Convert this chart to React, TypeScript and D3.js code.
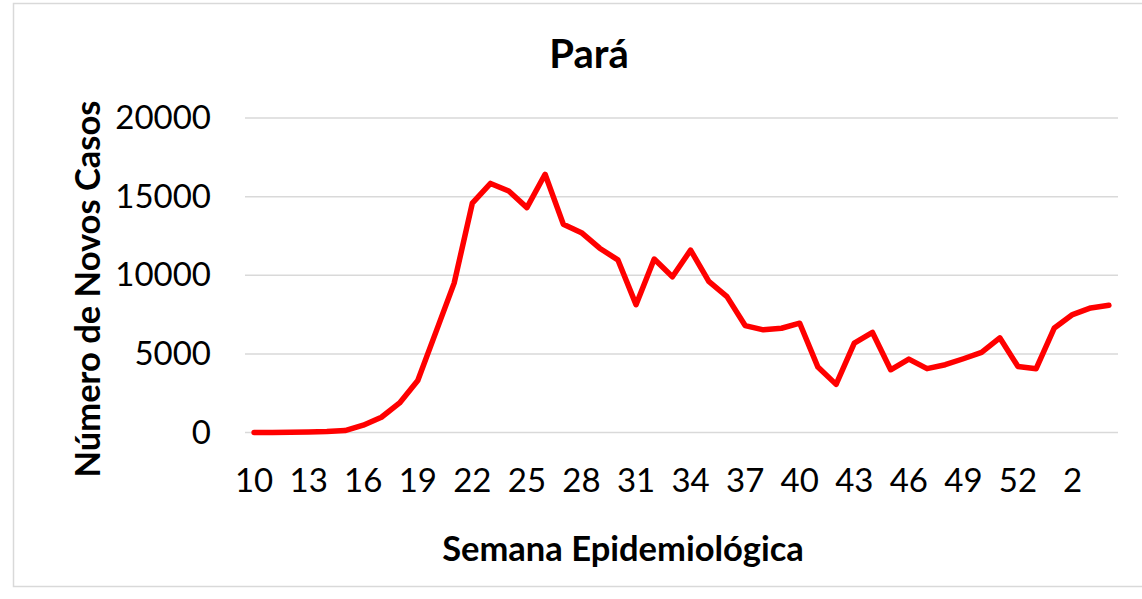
import React, { useEffect, useRef } from "react";
import * as d3 from "d3";

// semanas epidemiológicas (2020 -> 2021)
const weeks: string[] = [
  "10", "11", "12", "13", "14", "15", "16", "17", "18", "19", "20", "21",
  "22", "23", "24", "25", "26", "27", "28", "29", "30", "31", "32", "33",
  "34", "35", "36", "37", "38", "39", "40", "41", "42", "43", "44", "45",
  "46", "47", "48", "49", "50", "51", "52", "53", "1", "2", "3", "4",
];
const newCases: number[] = [
  0, 0, 10, 30, 60, 120, 465, 970, 1880, 3310, 6400, 9500,
  14580, 15840, 15360, 14300, 16420, 13250, 12710, 11720, 10980, 8130, 11030, 9900,
  11600, 9610, 8640, 6800, 6530, 6630, 6950, 4160, 3060, 5680, 6360, 3990,
  4670, 4060, 4310, 4690, 5090, 6020, 4200, 4060, 6650, 7500, 7920, 8090,
];
const yTicks: number[] = [0, 5000, 10000, 15000, 20000];

const chartTitle = "Pará";
const xTitle = "Semana Epidemiológica";
const yTitle = "Número de Novos Casos";

const App = () => {
  const ref = useRef<SVGSVGElement>(null);

  useEffect(() => {
    const width = 1142;
    const height = 599;
    const left = 245, right = 1118, top = 118, bottom = 432.5;
    const font = "Lato, 'Open Sans', sans-serif";

    const svg = d3.select(ref.current).attr("width", width).attr("height", height);
    svg.selectAll("*").remove();

    // chart frame
    svg.append("rect")
      .attr("x", 13.5).attr("y", 3.5)
      .attr("width", 1160).attr("height", 583)
      .attr("fill", "white").attr("stroke", "#d9d9d9").attr("stroke-width", 1.5);

    const idx = weeks.map((_, i) => String(i));
    const xScale = d3.scaleBand().domain(idx).range([left, right]).padding(0);
    const yScale = d3.scaleLinear().domain([0, 20000]).range([bottom, top]);
    const xc = (i: number) => (xScale(String(i)) as number) + xScale.bandwidth() / 2;

    // gridlines
    svg.append("g").selectAll("line")
      .data(yTicks)
      .join("line")
      .attr("x1", left).attr("x2", right)
      .attr("y1", d => yScale(d)).attr("y2", d => yScale(d))
      .attr("stroke", "#d9d9d9").attr("stroke-width", 1.5);

    // y tick labels
    const yAxis = d3.axisLeft(yScale).tickValues(yTicks).tickSize(0).tickPadding(34).tickFormat(d => String(d));
    const gy = svg.append("g").attr("transform", `translate(${left}, 0)`).call(yAxis);
    gy.select(".domain").remove();
    gy.selectAll("text").attr("font-family", font).attr("font-size", 33).attr("fill", "#000");

    // x tick labels (every 3rd week)
    const xAxis = d3.axisBottom(xScale)
      .tickValues(idx.filter((_, i) => i % 3 === 0))
      .tickSize(0).tickPadding(36)
      .tickFormat(d => weeks[+d]);
    const gx = svg.append("g").attr("transform", `translate(0, ${bottom})`).call(xAxis);
    gx.select(".domain").remove();
    gx.selectAll("text").attr("font-family", font).attr("font-size", 33).attr("fill", "#000");

    // line
    const line = d3.line<number>()
      .x((_, i) => xc(i))
      .y(d => yScale(d));
    svg.append("path")
      .datum(newCases)
      .attr("d", line)
      .attr("fill", "none")
      .attr("stroke", "#ff0000")
      .attr("stroke-width", 5.5)
      .attr("stroke-linejoin", "round")
      .attr("stroke-linecap", "round");

    // titles
    svg.append("text")
      .attr("x", 589).attr("y", 68)
      .attr("text-anchor", "middle")
      .attr("font-family", font).attr("font-weight", "bold").attr("font-size", 40)
      .text(chartTitle);

    svg.append("text")
      .attr("x", 623).attr("y", 561)
      .attr("text-anchor", "middle")
      .attr("font-family", font).attr("font-weight", "bold").attr("font-size", 34.5)
      .text(xTitle);

    svg.append("text")
      .attr("transform", "translate(100, 289) rotate(-90)")
      .attr("text-anchor", "middle")
      .attr("font-family", font).attr("font-weight", "bold").attr("font-size", 34.5)
      .text(yTitle);
  }, []);

  return (
    <svg ref={ref} style={{ position: "absolute", left: 0, top: 0, display: "block" }} />
  );
};

export default App;
